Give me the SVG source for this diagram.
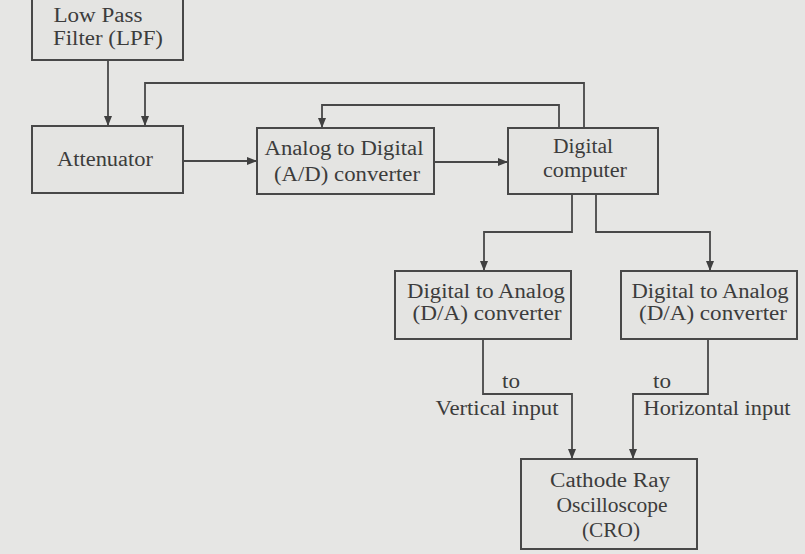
<svg xmlns="http://www.w3.org/2000/svg" width="805" height="554" viewBox="0 0 805 554">
<style>
.box{fill:#e4e4e2;stroke:#484848;stroke-width:2}
.ln{fill:none;stroke:#484848;stroke-width:1.8}
text{font-family:"Liberation Serif","Times New Roman",serif;font-size:20px;fill:#3c3c3c;text-anchor:middle}
</style>
<defs>
<marker id="ah" viewBox="0 0 10 8" refX="10" refY="4" markerWidth="10" markerHeight="8" markerUnits="userSpaceOnUse" orient="auto">
<path d="M0,0 L10,4 L0,8 Z" fill="#404040"/>
</marker>
</defs>
<rect x="0" y="0" width="805" height="554" fill="#e6e6e4"/>
<g id="connectors">
<path class="ln" d="M108,60 V126" marker-end="url(#ah)"/>
<path class="ln" d="M584,128 V83 H145 V126" marker-end="url(#ah)"/>
<path class="ln" d="M559,128 V105 H322 V128" marker-end="url(#ah)"/>
<path class="ln" d="M183,161 H257" marker-end="url(#ah)"/>
<path class="ln" d="M434,162 H508" marker-end="url(#ah)"/>
<path class="ln" d="M572,194 V232 H484 V271" marker-end="url(#ah)"/>
<path class="ln" d="M596,194 V232 H710 V271" marker-end="url(#ah)"/>
<path class="ln" d="M483,339 V394 H572 V459" marker-end="url(#ah)"/>
<path class="ln" d="M708,339 V394 H633 V459" marker-end="url(#ah)"/>
<text x="511" y="388" textLength="18" lengthAdjust="spacingAndGlyphs">to</text>
<text x="497" y="415" textLength="123" lengthAdjust="spacingAndGlyphs">Vertical input</text>
<text x="662" y="388" textLength="18" lengthAdjust="spacingAndGlyphs">to</text>
<text x="717" y="415" textLength="147" lengthAdjust="spacingAndGlyphs">Horizontal input</text>
</g>
<g id="lpf">
<rect class="box" x="32" y="-4" width="151" height="64"/>
<text x="98" y="22" textLength="89" lengthAdjust="spacingAndGlyphs">Low Pass</text>
<text x="108" y="45" textLength="110" lengthAdjust="spacingAndGlyphs">Filter (LPF)</text>
</g>
<g id="attenuator">
<rect class="box" x="32" y="126" width="151" height="67"/>
<text x="105" y="166" textLength="96" lengthAdjust="spacingAndGlyphs">Attenuator</text>
</g>
<g id="adc">
<rect class="box" x="257" y="128" width="177" height="66"/>
<text x="344" y="155" textLength="159" lengthAdjust="spacingAndGlyphs">Analog to Digital</text>
<text x="347" y="181" textLength="146" lengthAdjust="spacingAndGlyphs">(A/D) converter</text>
</g>
<g id="computer">
<rect class="box" x="508" y="128" width="150" height="66"/>
<text x="583" y="153" textLength="60" lengthAdjust="spacingAndGlyphs">Digital</text>
<text x="585" y="177" textLength="84" lengthAdjust="spacingAndGlyphs">computer</text>
</g>
<g id="dac1">
<rect class="box" x="395" y="271" width="176" height="68"/>
<text x="486" y="298" textLength="158" lengthAdjust="spacingAndGlyphs">Digital to Analog</text>
<text x="487" y="320" textLength="149" lengthAdjust="spacingAndGlyphs">(D/A) converter</text>
</g>
<g id="dac2">
<rect class="box" x="621" y="271" width="176" height="68"/>
<text x="710" y="298" textLength="157" lengthAdjust="spacingAndGlyphs">Digital to Analog</text>
<text x="713" y="320" textLength="148" lengthAdjust="spacingAndGlyphs">(D/A) converter</text>
</g>
<g id="cro">
<rect class="box" x="521" y="459" width="176" height="90"/>
<text x="610" y="487" textLength="120" lengthAdjust="spacingAndGlyphs">Cathode Ray</text>
<text x="612" y="512" textLength="111" lengthAdjust="spacingAndGlyphs">Oscilloscope</text>
<text x="611" y="537" textLength="58" lengthAdjust="spacingAndGlyphs">(CRO)</text>
</g>
</svg>
